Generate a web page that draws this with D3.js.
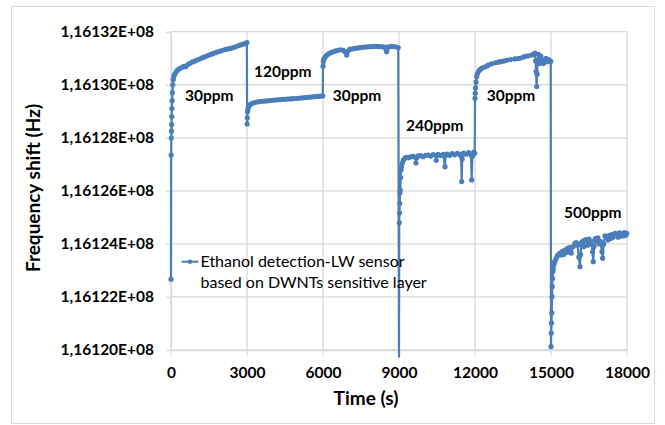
<!DOCTYPE html>
<html><head><meta charset="utf-8">
<script src="https://cdn.jsdelivr.net/npm/d3@7"></script>
<style>
html,body{margin:0;padding:0;background:#fff;}
text{font-family:Lato,"Open Sans",sans-serif;}
</style></head>
<body><svg id="chart" width="665" height="425"></svg>
<script>
// ---- data ----
const xTickValues = [0, 3000, 6000, 9000, 12000, 15000, 18000];
const xTickLabels = ["0", "3000", "6000", "9000", "12000", "15000", "18000"];
const yTickValues = [116120000, 116122000, 116124000, 116126000, 116128000, 116130000, 116132000];
const yTickLabels = ["1,16120E+08", "1,16122E+08", "1,16124E+08", "1,16126E+08", "1,16128E+08", "1,16130E+08", "1,16132E+08"];
const seriesName = ["Ethanol detection-LW sensor", "based on DWNTs sensitive layer"];
const xTitle = "Time (s)";
const yTitle = "Frequency shift (Hz)";

const timeS = [
 0,6,12,18,24,30,36,44,55,70,90,120,160,210,270,340,420,500,580,660,750,850,950,1050,1150,1250,1350,1450,1550,1650,1750,1850,1950,2050,2150,2250,2350,2450,2550,2650,2750,2850,2950,2995,
 3005,3012,3020,3035,3060,3100,3150,3220,3300,3400,3500,3600,3700,3800,3900,4000,4100,4200,4300,4400,4500,4600,4700,4800,4900,5000,5100,5200,5300,5400,5500,5600,5700,5800,5900,5990,
 6000,6010,6030,6070,6120,6180,6250,6330,6420,6500,6600,6700,6800,6880,6935,6970,7050,7150,7250,7350,7450,7550,7650,7750,7850,7950,8050,8150,8250,8350,8450,8490,8514,8540,8600,8700,8800,8900,8970,
 9000,9010,9020,9030,9040,9050,9065,9080,9100,9130,9170,9230,9300,9370,9450,9550,9650,9670,9700,9750,9850,9950,10050,10150,10250,10350,10450,10470,10500,10550,10650,10750,10815,10840,10900,11000,11100,11200,11300,11400,11450,11474,11495,11550,11650,11750,11840,11869,11895,11950,11990,
 12000,12010,12020,12040,12066,12100,12150,12200,12264,12350,12461,12524,12650,12800,12919,13000,13116,13250,13400,13578,13700,13775,13900,14000,14100,14237,14300,14367,14390,14410,14434,14450,14470,14500,14530,14564,14600,14650,14700,14762,14800,14850,14900,14950,14990,
 15000,15010,15020,15030,15040,15050,15060,15075,15090,15110,15130,15156,15200,15250,15287,15354,15400,15450,15500,15551,15600,15650,15700,15750,15800,15879,15946,16000,16050,16100,16143,16170,16200,16250,16300,16340,16407,16450,16500,16550,16600,16640,16668,16700,16750,16800,16850,16900,16950,17010,17039,17080,17130,17197,17250,17300,17350,17400,17450,17524,17600,17650,17700,17750,17800,17850,17900,17950,17986
];
const freqHz = [
 116122670,116127350,116127990,116128250,116128500,116128800,116129100,116129400,116129700,116130000,116130200,116130330,116130420,116130500,116130560,116130610,116130650,116130690,116130680,116130760,116130810,116130860,116130900,116130940,116130980,116131020,116131060,116131100,116131140,116131170,116131210,116131240,116131270,116131300,116131330,116131350,116131370,116131400,116131430,116131470,116131500,116131530,116131560,116131590,
 116128520,116128750,116128980,116129090,116129170,116129230,116129270,116129300,116129330,116129350,116129365,116129375,116129385,116129395,116129405,116129415,116129425,116129432,116129440,116129447,116129453,116129460,116129466,116129474,116129482,116129490,116129500,116129508,116129517,116129527,116129537,116129545,116129553,116129560,116129568,116129575,
 116130700,116130870,116130950,116131020,116131090,116131140,116131180,116131220,116131250,116131275,116131300,116131320,116131300,116131230,116131120,116131250,116131330,116131350,116131370,116131380,116131400,116131410,116131420,116131430,116131435,116131440,116131445,116131445,116131440,116131430,116131420,116131320,116131240,116131380,116131430,116131445,116131440,116131420,116131400,
 116119750,116124800,116125170,116125530,116125930,116126030,116126500,116126790,116126910,116127050,116127160,116127230,116127260,116127250,116127280,116127300,116127260,116127050,116127250,116127320,116127330,116127290,116127340,116127350,116127310,116127370,116127340,116127150,116127330,116127380,116127330,116127380,116126910,116127330,116127390,116127340,116127400,116127360,116127410,116127380,116127300,116126350,116127200,116127420,116127380,116127440,116127350,116126410,116127300,116127460,116127420,
 116129490,116129680,116129880,116130100,116130300,116130420,116130520,116130570,116130620,116130660,116130700,116130745,116130790,116130830,116130850,116130870,116130890,116130920,116130950,116130975,116130990,116131000,116131040,116131070,116131090,116131120,116131150,116131190,116130900,116130500,116129930,116130400,116130900,116131150,116130800,116130950,116131080,116130950,116130800,116130920,116131000,116130870,116130950,116130900,116130880,
 116120125,116120640,116121020,116121400,116122010,116122390,116122700,116122950,116123050,116123200,116123300,116123350,116123450,116123540,116123590,116123650,116123580,116123720,116123600,116123770,116123680,116123830,116123700,116123870,116123650,116123900,116124020,116124050,116123950,116123500,116123140,116123600,116124050,116124100,116123900,116124150,116124150,116123950,116124180,116124000,116124100,116123700,116123330,116123900,116124200,116124080,116124230,116124000,116124100,116123700,116123460,116124000,116124300,116124270,116124150,116124320,116124200,116124350,116124250,116124400,116124360,116124250,116124420,116124300,116124380,116124300,116124430,116124330,116124400
];

// concentration annotations, anchored in data coordinates (time, frequency)
const annoText = ["30ppm", "120ppm", "30ppm", "240ppm", "30ppm", "500ppm"];
const annoTime = [553, 3276, 6382, 9276, 12461, 15512];
const annoFreq = [116129387, 116130292, 116129387, 116128268, 116129387, 116124965];

// ---- drawing ----
const W = 665, H = 425;
const plot = {left: 171, right: 627, top: 31.7, bottom: 350};
const blue = "#4a7ebb";
const gridColor = "#d9d9d9";

const svg = d3.select("#chart");
svg.append("rect").attr("x", 0).attr("y", 0).attr("width", W).attr("height", H).attr("fill", "#fff");
svg.append("rect").attr("x", 11.5).attr("y", 6.5).attr("width", 643).attr("height", 417)
  .attr("fill", "#fff").attr("stroke", gridColor).attr("stroke-width", 1);

const x = d3.scaleLinear().domain([0, 18000]).range([plot.left, plot.right]);
const y = d3.scaleLinear().domain([116120000, 116132000]).range([plot.bottom, plot.top]);

// gridlines
const g = svg.append("g");
g.selectAll("line.h").data(yTickValues).join("line").attr("class", "h")
  .attr("x1", plot.left).attr("x2", plot.right)
  .attr("y1", d => y(d)).attr("y2", d => y(d))
  .attr("stroke", gridColor).attr("stroke-width", 1.3);
g.selectAll("line.v").data(xTickValues).join("line").attr("class", "v")
  .attr("y1", plot.top).attr("y2", plot.bottom)
  .attr("x1", d => x(d)).attr("x2", d => x(d))
  .attr("stroke", gridColor).attr("stroke-width", 1.3);

// axes
const xAxis = d3.axisBottom(x).tickValues(xTickValues)
  .tickFormat((d, i) => xTickLabels[i]).tickSize(5).tickSizeOuter(0).tickPadding(12);
const yAxis = d3.axisLeft(y).tickValues(yTickValues)
  .tickFormat((d, i) => yTickLabels[i]).tickSize(5).tickSizeOuter(0).tickPadding(12);

const gx = svg.append("g").attr("transform", `translate(0,${plot.bottom})`).call(xAxis);
const gy = svg.append("g").attr("transform", `translate(${plot.left},0)`).call(yAxis);
[gx, gy].forEach(a => {
  a.select(".domain").attr("stroke", gridColor).attr("stroke-width", 1.3);
  a.selectAll(".tick line").attr("stroke", gridColor).attr("stroke-width", 1.3);
  a.selectAll(".tick text").attr("font-family", "Lato, sans-serif").attr("font-weight", "bold")
    .attr("font-size", "15.5px").attr("fill", "#000");
});

// series
const pts = timeS.map((t, i) => ({t, v: freqHz[i]}));
svg.append("path").datum(pts)
  .attr("d", d3.line().x(d => x(d.t)).y(d => y(d.v)))
  .attr("fill", "none").attr("stroke", blue).attr("stroke-width", 2.2).attr("stroke-linejoin", "round");
svg.append("g").selectAll("circle").data(pts.filter(d => d.v >= y.domain()[0])).join("circle")
  .attr("cx", d => x(d.t)).attr("cy", d => y(d.v)).attr("r", 2.6).attr("fill", blue);

// annotations
svg.append("g").selectAll("text").data(annoText).join("text")
  .attr("x", (d, i) => x(annoTime[i])).attr("y", (d, i) => y(annoFreq[i]))
  .attr("font-weight", "bold").attr("font-size", "15.5px").attr("fill", "#000")
  .text(d => d);

// legend
const lg = svg.append("g");
lg.append("line").attr("x1", 181.5).attr("x2", 198.5).attr("y1", 261.7).attr("y2", 261.7)
  .attr("stroke", blue).attr("stroke-width", 2);
lg.append("circle").attr("cx", 190).attr("cy", 261.7).attr("r", 2.3).attr("fill", blue);
lg.selectAll("text").data(seriesName).join("text")
  .attr("x", 200.5).attr("y", (d, i) => 266.5 + i * 21)
  .attr("font-size", "16px").attr("fill", "#000").text(d => d);

// axis titles
svg.append("text").attr("x", 366).attr("y", 405).attr("text-anchor", "middle")
  .attr("font-weight", "bold").attr("font-size", "19px").attr("fill", "#000").text(xTitle);
svg.append("text").attr("transform", "translate(40,188) rotate(-90)").attr("text-anchor", "middle")
  .attr("font-weight", "bold").attr("font-size", "19px").attr("fill", "#000").text(yTitle);
</script></body></html>
